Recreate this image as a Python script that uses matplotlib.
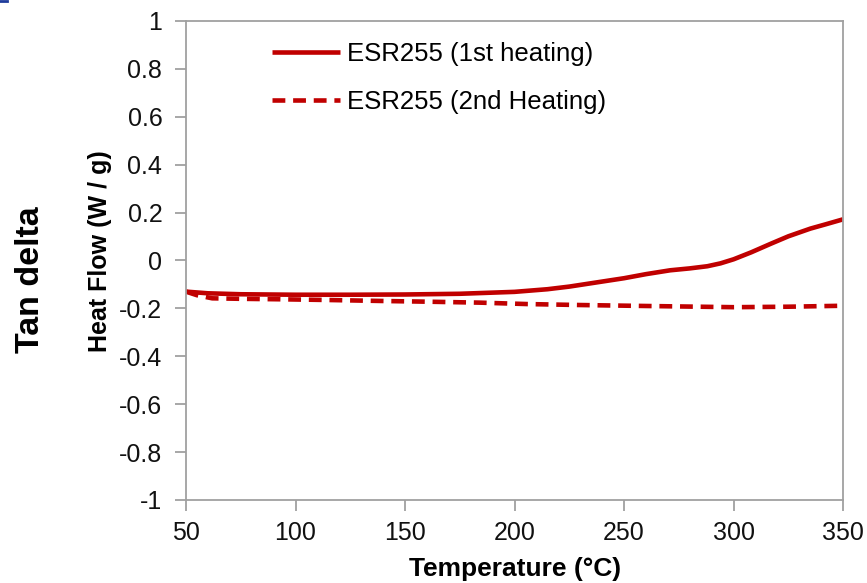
import matplotlib.pyplot as plt
from matplotlib.lines import Line2D

plt.rcParams["font.family"] = ["Liberation Sans", "DejaVu Sans"]

# DSC heat flow, ESR255
temp_1st = [50, 60, 75, 100, 125, 150, 175, 200, 215, 225, 240, 250, 260, 271,
            280, 288, 294, 300, 308, 317, 325, 335, 342, 350]
flow_1st = [-0.13, -0.137, -0.141, -0.143, -0.143, -0.142, -0.139, -0.131,
            -0.12, -0.109, -0.088, -0.074, -0.057, -0.041, -0.033, -0.024,
            -0.012, 0.005, 0.034, 0.07, 0.101, 0.133, 0.151, 0.172]

temp_2nd = [50, 55, 62, 75, 93, 115, 139, 160, 184, 206, 230, 260, 300, 325, 350]
flow_2nd = [-0.13, -0.145, -0.158, -0.16, -0.162, -0.165, -0.169, -0.172,
            -0.176, -0.182, -0.186, -0.19, -0.195, -0.193, -0.189]

x_ticks = [50, 100, 150, 200, 250, 300, 350]
y_ticks = [-1, -0.8, -0.6, -0.4, -0.2, 0, 0.2, 0.4, 0.6, 0.8, 1]

red = "#c00000"
grey = "#a0a0a0"

fig = plt.figure(figsize=(8.67, 5.83), dpi=100)
ax = fig.add_axes([0.2145, 0.1424, 0.758, 0.8216])

ax.plot(temp_1st, flow_1st, color=red, lw=3.3, solid_capstyle="butt",
        label="ESR255 (1st heating)")
ax.plot(temp_2nd, flow_2nd, color=red, lw=3.3, ls=(0, (2.8, 1.7)),
        dash_capstyle="butt", label="ESR255 (2nd Heating)")

ax.set_xlim(50, 350)
ax.set_ylim(-1, 1)
ax.set_xticks(x_ticks)
ax.set_yticks(y_ticks)
ax.set_yticklabels([f"{v:g}" for v in y_ticks])
for s in ax.spines.values():
    s.set_color(grey)
    s.set_linewidth(1.3)
ax.tick_params(colors=grey, labelcolor="#111111", labelsize=18, length=8,
               width=1.3, direction="out")
ax.tick_params(axis="x", pad=7)
ax.tick_params(axis="y", pad=9)

ax.set_xlabel("Temperature (°C)", fontsize=19, fontweight="bold", labelpad=9)
fig.text(0.1155, 0.57, "Heat Flow (W / g)", rotation=90, fontsize=18,
         fontweight="bold", ha="center", va="center")
fig.text(0.035, 0.52, "Tan delta", rotation=90, fontsize=24.5,
         fontweight="bold", ha="center", va="center")

leg = ax.legend(loc="upper left", bbox_to_anchor=(0.099, 1.0), frameon=False,
                fontsize=18.5, handlelength=2.65, handletextpad=0.27,
                labelspacing=0.95, borderpad=0.8, borderaxespad=0)

# small blue mark at the top-left corner
fig.add_artist(Line2D([0, 0.008], [0.998, 0.998], color="#1f3c9c", lw=2,
                      transform=fig.transFigure))

fig.savefig("out.png", dpi=100)
